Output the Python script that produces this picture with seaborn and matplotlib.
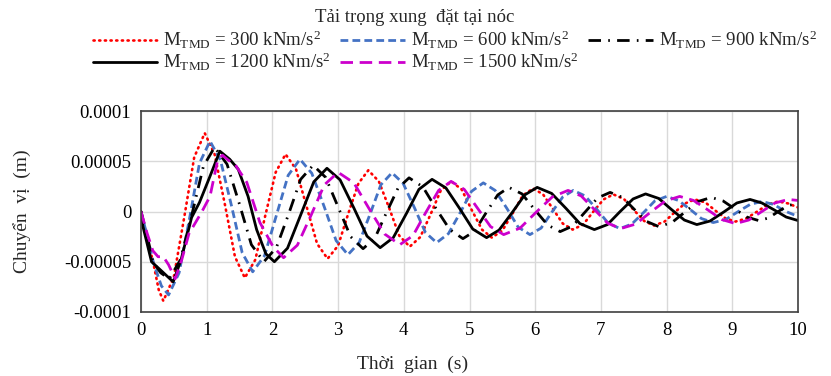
import matplotlib
matplotlib.use("Agg")
import matplotlib.pyplot as plt
import seaborn as sns
import pandas as pd
import numpy as np

# ---- data (displacement in units of 1e-5 m) ----
t_300 = [0, 0.10, 0.19, 0.27, 0.34, 0.50, 0.66, 0.81, 0.97, 1.12, 1.28, 1.43, 1.58, 1.74, 1.89, 2.05, 2.20,
         2.36, 2.52, 2.68, 2.84, 3.00, 3.15, 3.31, 3.46, 3.62, 3.78, 3.93, 4.09, 4.25, 4.41, 4.56, 4.72,
         4.88, 5.03, 5.19, 5.34, 5.50, 5.66, 5.81, 5.97, 6.12, 6.27, 6.42, 6.57, 6.73, 6.88, 7.04, 7.19,
         7.35, 7.50, 7.66, 7.81, 7.97, 8.12, 8.28, 8.43, 8.59, 8.74, 8.90, 9.05, 9.21, 9.38, 9.54, 9.70,
         9.85, 10.0]
u_300 = [0, -2.8, -5.2, -7.8, -8.9, -6.5, -0.5, 5.4, 7.8, 5.7, 0.6, -4.5, -6.6, -4.8, -0.45, 3.9, 5.7,
         4.2, 0.5, -3.2, -4.7, -3.4, -0.3, 2.8, 4.1, 3.0, 0.3, -2.4, -3.5, -2.55, -0.25, 2.05, 3.0,
         2.2, 0.2, -1.8, -2.6, -1.9, -0.15, 1.6, 2.3, 1.7, 0.25, -1.2, -1.8, -1.3, -0.05, 1.2, 1.7,
         1.25, 0.15, -0.95, -1.4, -1.0, -0.1, 0.8, 1.2, 0.9, 0.1, -0.7, -1.0, -0.7, 0.0, 0.7, 1.0,
         0.8, 0.4]

t_600 = [0, 0.10, 0.19, 0.31, 0.42, 0.58, 0.74, 0.89, 1.05, 1.21, 1.38, 1.54, 1.70, 1.88, 2.06, 2.24, 2.42,
         2.60, 2.79, 2.97, 3.15, 3.32, 3.49, 3.65, 3.82, 3.99, 4.16, 4.33, 4.50, 4.68, 4.86, 5.03, 5.21,
         5.39, 5.57, 5.74, 5.92, 6.09, 6.25, 6.42, 6.58, 6.76, 6.94, 7.11, 7.29, 7.47, 7.65, 7.82, 8.00,
         8.18, 8.36, 8.53, 8.71, 8.90, 9.08, 9.27, 9.45, 9.63, 9.80, 10.0]
u_600 = [0, -2.6, -5.1, -7.4, -8.3, -6.1, -0.65, 4.8, 7.0, 5.1, 0.5, -4.1, -6.0, -4.4, -0.4, 3.6, 5.2,
         3.8, 0.45, -2.9, -4.3, -3.1, -0.2, 2.65, 3.85, 2.8, 0.4, -2.1, -3.1, -2.2, -0.1, 2.0, 2.85,
         2.1, 0.3, -1.55, -2.3, -1.65, -0.1, 1.45, 2.1, 1.55, 0.2, -1.15, -1.7, -1.25, -0.1, 1.05, 1.5,
         1.1, 0.2, -0.7, -1.1, -0.8, -0.05, 0.7, 1.0, 0.7, 0.05, -0.5]

t_900 = [0, 0.10, 0.18, 0.30, 0.43, 0.60, 0.78, 0.95, 1.12, 1.31, 1.50, 1.68, 1.87, 2.06, 2.25, 2.43, 2.62,
         2.81, 3.00, 3.19, 3.38, 3.56, 3.73, 3.91, 4.08, 4.29, 4.49, 4.70, 4.90, 5.08, 5.25, 5.43, 5.60,
         5.80, 5.99, 6.19, 6.38, 6.57, 6.76, 6.95, 7.14, 7.33, 7.51, 7.70, 7.88, 8.08, 8.28, 8.48, 8.68,
         8.86, 9.04, 9.22, 9.40, 9.55, 9.70, 9.85, 10.0]
u_900 = [0, -2.6, -5.0, -6.1, -6.7, -4.8, -0.15, 4.5, 6.4, 4.7, 0.7, -3.3, -5.0, -3.6, -0.2, 3.2, 4.6,
         3.4, 0.45, -2.5, -3.7, -2.65, -0.2, 2.3, 3.35, 2.45, 0.3, -1.8, -2.7, -1.95, -0.15, 1.65, 2.4,
         1.75, 0.2, -1.35, -2.0, -1.45, -0.05, 1.35, 1.9, 1.4, 0.2, -1.0, -1.5, -1.1, -0.05, 1.0, 1.4,
         1.05, 0.25, -0.55, -0.9, -0.65, 0.0, 0.6, 0.8]

t_1200 = [0, 0.03, 0.16, 0.31, 0.49, 0.61, 0.77, 0.89, 1.05, 1.20, 1.35, 1.48, 1.63, 1.76, 1.90, 2.03,
          2.23, 2.43, 2.63, 2.83, 3.03, 3.24, 3.44, 3.64, 3.84, 4.04, 4.23, 4.43, 4.64, 4.85, 5.05, 5.26,
          5.45, 5.65, 5.84, 6.03, 6.25, 6.47, 6.68, 6.90, 7.10, 7.29, 7.49, 7.68, 7.88, 8.07, 8.27, 8.46,
          8.66, 8.87, 9.07, 9.27, 9.45, 9.64, 9.82, 10.0]
u_1200 = [0, -1.5, -5.0, -5.9, -7.0, -4.8, -0.6, 0.9, 3.5, 6.0, 5.2, 4.2, 1.5, -1.8, -4.2, -5.0,
          -3.65, -0.35, 2.95, 4.3, 3.15, 0.35, -2.45, -3.6, -2.6, -0.2, 2.2, 3.2, 2.35, 0.3, -1.75, -2.6,
          -1.85, -0.1, 1.65, 2.4, 1.8, 0.3, -1.2, -1.8, -1.3, -0.02, 1.25, 1.75, 1.3, 0.22, -0.85, -1.3,
          -0.95, -0.05, 0.85, 1.2, 0.85, 0.15, -0.55, -0.9]

t_1500 = [0, 0.09, 0.18, 0.26, 0.34, 0.42, 0.52, 0.62, 0.73, 0.92, 1.05, 1.17, 1.24, 1.33, 1.43, 1.61,
          1.81, 2.01, 2.17, 2.38, 2.59, 2.79, 3.00, 3.24, 3.47, 3.71, 3.94, 4.14, 4.33, 4.53, 4.72, 4.92,
          5.12, 5.32, 5.52, 5.77, 6.01, 6.26, 6.50, 6.70, 6.90, 7.10, 7.30, 7.53, 7.75, 7.98, 8.20, 8.41,
          8.63, 8.84, 9.05, 9.25, 9.45, 9.65, 9.85, 10.0]
u_1500 = [0, -2.1, -3.9, -4.5, -4.5, -5.3, -6.7, -4.8, -2.2, -0.1, 1.5, 5.2, 5.6, 5.1, 4.7, 2.9,
          -1.1, -3.5, -4.6, -3.35, -0.35, 2.65, 3.9, 2.85, 0.3, -2.25, -3.3, -2.4, -0.15, 2.1, 3.0, 2.2,
          0.35, -1.5, -2.3, -1.65, -0.1, 1.45, 2.1, 1.55, 0.2, -1.15, -1.7, -1.25, -0.1, 1.05, 1.5, 1.1,
          0.15, -0.8, -1.2, -0.85, 0.0, 0.85, 1.2, 1.1]

masses = [300, 600, 900, 1200, 1500]
times = [t_300, t_600, t_900, t_1200, t_1500]
disps = [u_300, u_600, u_900, u_1200, u_1500]
unit = 1e-5

y_ticks = [-0.0001, -0.00005, 0, 0.00005, 0.0001]
y_tick_labels = ["-0.0001", "-0.00005", "0", "0.00005", "0.0001"]
x_ticks = list(range(0, 11))

title = "Tải trọng xung  đặt tại nóc"
xlabel = "Thời  gian  (s)"
ylabel = "Chuyển  vị  (m)"

# ---- styles ----
styles = {
    300: dict(color="#FF0000", lw=1.9, linestyle=(0, (0.45, 1.7)), dash_capstyle="round"),
    600: dict(color="#4472C4", lw=2.0, linestyle=(0, (2.8, 1.5))),
    900: dict(color="black", lw=2.0, linestyle=(0, (4.5, 2.6, 0.6, 2.6))),
    1200: dict(color="black", lw=2.0, linestyle="-"),
    1500: dict(color="#CC00CC", lw=2.0, linestyle=(0, (4.5, 2.4))),
}

sns.set_theme(style="white")
plt.rcParams["font.family"] = ["Liberation Serif", "DejaVu Serif"]
plt.rcParams["mathtext.fontset"] = "custom"
plt.rcParams["mathtext.rm"] = "Liberation Serif"
plt.rcParams["mathtext.it"] = "Liberation Serif:italic"

fig = plt.figure(figsize=(8.31, 3.76), dpi=100)
ax = fig.add_axes([141 / 831, 1 - 312 / 376, (798 - 141) / 831, (312 - 111) / 376])

handles = {}
for m, tt, uu in zip(masses, times, disps):
    df = pd.DataFrame({"t": tt, "u": np.asarray(uu) * unit})
    sns.lineplot(data=df, x="t", y="u", ax=ax, sort=False, **styles[m])
    ln = ax.lines[-1]
    ln.set_label(r"$\mathregular{M_{TMD}}$ = %d kNm/s$^{2}$" % m)
    handles[m] = ln

ax.set_xlim(0, 10)
ax.set_ylim(-0.0001, 0.0001)
ax.set_xticks(x_ticks)
ax.set_xticklabels([str(v) for v in x_ticks])
ax.set_yticks(y_ticks)
ax.set_yticklabels(y_tick_labels)
ax.grid(True, color="#d9d9d9", lw=1.0)
ax.set_axisbelow(True)
for s in ax.spines.values():
    s.set_visible(True)
    s.set_color("#404040")
    s.set_linewidth(1.2)
ax.tick_params(axis="both", direction="out", length=4, width=1, color="#404040",
               labelsize=13.5, labelcolor="black", pad=3)
ax.set_xlabel(xlabel, fontsize=14)
ax.xaxis.set_label_coords((413 - 141) / 657, -0.215)
ax.set_ylabel(ylabel, fontsize=14)
ax.yaxis.set_label_coords(-0.168, 0.5)
if ax.get_legend() is not None:
    ax.get_legend().remove()

fig.text(415 / 831, 1 - 17 / 376, title, ha="center", va="center", fontsize=13.5)

order = [300, 1200, 600, 1500, 900]
fig.legend([handles[m] for m in order], [handles[m].get_label() for m in order],
           ncol=3, loc="center", bbox_to_anchor=(455 / 831, 1 - 51 / 376), frameon=False,
           fontsize=13.6, handlelength=3.4, columnspacing=0.5, handletextpad=0.35,
           labelspacing=0.0, borderaxespad=0)

fig.savefig("out.png", dpi=100)
